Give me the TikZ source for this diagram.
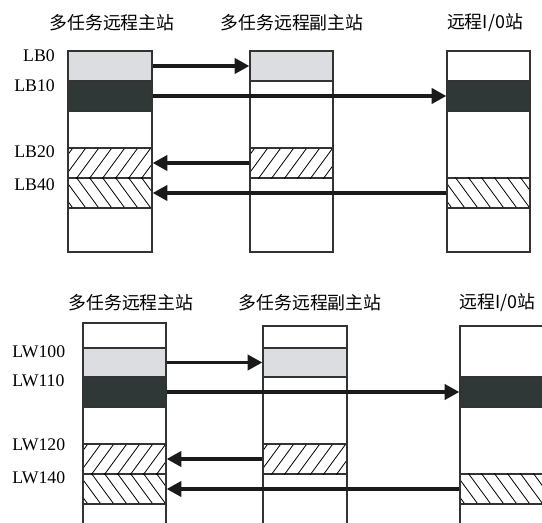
\documentclass[tikz,border=0pt]{standalone}
\usepackage{fontspec}
\setmainfont{Liberation Serif}
\newfontfamily\cjk{Noto Sans CJK SC}
\usetikzlibrary{arrows.meta,fit,calc}
\definecolor{edge}{HTML}{333333}
\definecolor{lightband}{HTML}{DCDDE1}
\definecolor{darkband}{HTML}{2F3836}
\definecolor{arrowcol}{HTML}{1A1A1A}
\tikzset{
  colbox/.style={draw=edge,line width=1.1pt,inner sep=0pt,fill=none},
  band/.style={draw=edge,line width=1.1pt,inner sep=0pt},
  lightb/.style={band,fill=lightband},
  darkb/.style={band,fill=darkband},
  hatchb/.style={band,fill=white},
  hatchline/.style={line width=0.6pt,black},
  arr/.style={arrowcol,line width=2.3pt,-{Triangle[length=11pt,width=11.5pt]}},
  title/.style={font=\cjk\fontsize{13.4}{16}\selectfont,inner sep=0pt},
  lab/.style={font=\fontsize{13.3}{15}\selectfont,inner sep=0pt}
}
\newcommand\hatchfwd[1]{%
  \begin{scope}
    \clip (#1.south west) rectangle (#1.north east);
    \foreach \i in {-30,-17,...,100}
      \draw[hatchline] ($(#1.south west)+(\i,0)$) -- ++(22,-30);
  \end{scope}}
\newcommand\hatchbwd[1]{%
  \begin{scope}
    \clip (#1.south west) rectangle (#1.north east);
    \foreach \i in {-30,-17,...,100}
      \draw[hatchline] ($(#1.north west)+(\i,0)$) -- ++(22,30);
  \end{scope}}
\begin{document}
\begin{tikzpicture}[x=0.75pt,y=-0.75pt]
\clip (0,0) rectangle (542,523);
\fill[white] (0,0) rectangle (542,523);

% ---------- top diagram ----------
\node[title] (t1m) at (112,23) {多任务远程主站};
\node[title] (t1s) at (292,23) {多任务远程副主站};
\node[title] (t1r) at (485,23) {远程I/0站};

\node[lightb,fit={(68,51) (152,81)}] (m1L) {};
\node[darkb,fit={(68,81) (152,111)}] (m1D) {};
\node[hatchb,fit={(68,148) (152,178)}] (m1F) {};
\node[hatchb,fit={(68,178) (152,208)}] (m1B) {};
\hatchfwd{m1F}
\hatchbwd{m1B}
\node[colbox,fit={(68,51) (152,252)}] (m1) {};

\node[lightb,fit={(250,51) (333,81)}] (s1L) {};
\node[hatchb,fit={(250,148) (333,178)}] (s1F) {};
\hatchfwd{s1F}
\node[colbox,fit={(250,51) (333,252)}] (s1) {};

\node[darkb,fit={(447,81) (530,111)}] (r1D) {};
\node[hatchb,fit={(447,178) (530,208)}] (r1B) {};
\hatchbwd{r1B}
\node[colbox,fit={(447,51) (530,252)}] (r1) {};

\node[lab,anchor=east] (lb0) at (55,56) {LB0};
\node[lab,anchor=east] (lb10) at (55,86) {LB10};
\node[lab,anchor=east] (lb20) at (55,152) {LB20};
\node[lab,anchor=east] (lb40) at (55,185) {LB40};

\draw[arr] (m1L.east) -- (s1L.west);
\draw[arr] (m1D.east) -- (r1D.west);
\draw[arr] (s1F.west) -- (m1F.east);
\draw[arr] (r1B.west) -- (m1B.east);

% ---------- bottom diagram ----------
\node[title] (t2m) at (131,303) {多任务远程主站};
\node[title] (t2s) at (310,303) {多任务远程副主站};
\node[title,anchor=west] (t2r) at (459,303) {远程I/0站};

\node[lightb,fit={(83,348) (166,377)}] (m2L) {};
\node[darkb,fit={(83,377) (166,407)}] (m2D) {};
\node[hatchb,fit={(83,444) (166,474)}] (m2F) {};
\node[hatchb,fit={(83,474) (166,504)}] (m2B) {};
\hatchfwd{m2F}
\hatchbwd{m2B}
\node[colbox,fit={(83,323) (166,540)}] (m2) {};

\node[lightb,fit={(263,348) (347,377)}] (s2L) {};
\node[hatchb,fit={(263,444) (347,474)}] (s2F) {};
\hatchfwd{s2F}
\node[colbox,fit={(263,326) (347,540)}] (s2) {};

\node[darkb,fit={(460,377) (544,407)}] (r2D) {};
\node[hatchb,fit={(460,474) (544,504)}] (r2B) {};
\hatchbwd{r2B}
\node[colbox,fit={(460,326) (544,540)}] (r2) {};

\node[lab,anchor=west] (lw100) at (12,352) {LW100};
\node[lab,anchor=west] (lw110) at (12,381) {LW110};
\node[lab,anchor=west] (lw120) at (12,445) {LW120};
\node[lab,anchor=west] (lw140) at (12,478) {LW140};

\draw[arr] (m2L.east) -- (s2L.west);
\draw[arr] (m2D.east) -- (r2D.west);
\draw[arr] (s2F.west) -- (m2F.east);
\draw[arr] (r2B.west) -- (m2B.east);
\end{tikzpicture}
\end{document}
